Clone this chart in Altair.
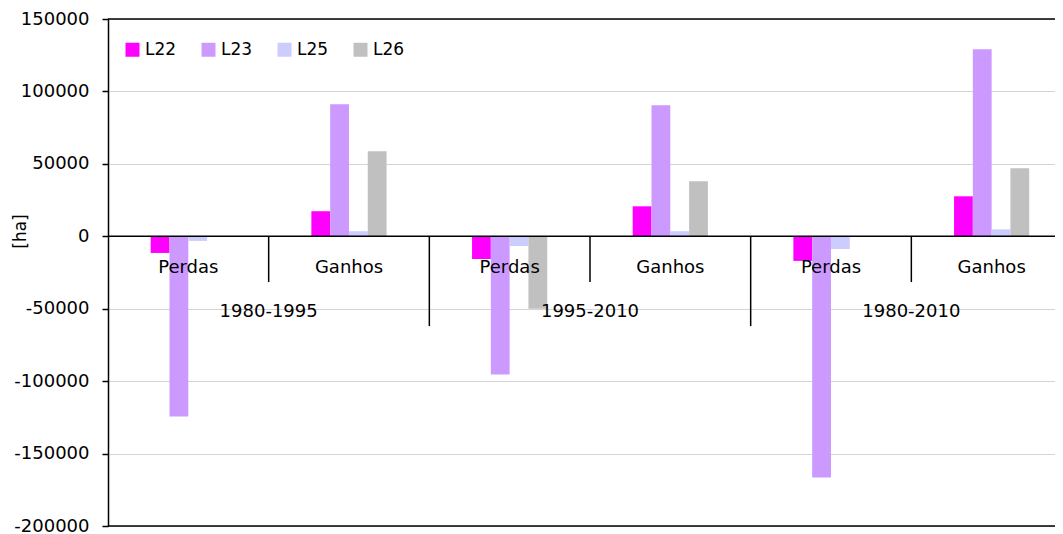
import altair as alt
import pandas as pd

periods = ["1980-1995", "1995-2010", "1980-2010"]
kinds = ["Perdas", "Ganhos"]
series = ["L22", "L23", "L25", "L26"]
colors = ["#FF00FF", "#CC99FF", "#CCCCFF", "#C0C0C0"]

# values in order: P1 Perdas, P1 Ganhos, P2 Perdas, P2 Ganhos, P3 Perdas, P3 Ganhos
L22 = [-11500, 17300, -15700, 20700, -17000, 27600]
L23 = [-124400, 91200, -95400, 90500, -166500, 129200]
L25 = [-3200, 3500, -6700, 3500, -8800, 4800]
L26 = [0, 58700, -50000, 38000, 0, 47000]

y_ticks = [-200000, -150000, -100000, -50000, 0, 50000, 100000, 150000]

FONT = "DejaVu Sans"

cats = [f"{p}|{k}" for p in periods for k in kinds]
rows = []
for s, vals in zip(series, [L22, L23, L25, L26]):
    for c, v in zip(cats, vals):
        rows.append({"cat": c, "series": s, "value": v})
df = pd.DataFrame(rows)

xscale = alt.Scale(domain=cats, range=[0, 964], paddingInner=0, paddingOuter=0)
yscale = alt.Scale(domain=[-200000, 150000], nice=False, zero=False)

yaxis = alt.Axis(
    title="[ha]", values=y_ticks, labelExpr="'' + datum.value",
    labelFont=FONT, labelFontSize=18, labelColor="black", labelPadding=13,
    tickSize=6, tickColor="black", tickWidth=1.5,
    domainColor="black", domainWidth=1.5,
    grid=True, gridColor="#d4d4d4", gridWidth=1,
    titleFont=FONT, titleFontSize=17, titleFontWeight="normal", titleColor="black",
    titleAngle=-90, titleX=-88, titleY=212, titleAlign="center", titleBaseline="middle",
)

bars = alt.Chart(df).mark_bar().encode(
    x=alt.X("cat:N", scale=xscale, axis=None, sort=cats),
    xOffset=alt.XOffset("series:N", scale=alt.Scale(domain=series, range=[42.7, 117.9], paddingInner=0, paddingOuter=0)),
    y=alt.Y("value:Q", scale=yscale, axis=yaxis),
    color=alt.Color(
        "series:N",
        scale=alt.Scale(domain=series, range=colors),
        legend=alt.Legend(
            title=None, orient="none", legendX=16, legendY=22, direction="horizontal",
            columns=4, symbolType="square", symbolSize=196, symbolStrokeWidth=0,
            labelFont=FONT, labelFontSize=17, labelColor="black", labelOffset=4,
            columnPadding=23,
        ),
    ),
)

# zero line and frame lines
hlines = alt.Chart(pd.DataFrame({"value": [0, 150000, -200000]})).mark_rule(
    color="black", strokeWidth=1.5
).encode(y=alt.Y("value:Q", scale=yscale, axis=yaxis))

# category separators
sep_df = pd.DataFrame({
    "cat": cats[1:],
    "value": [0, 0, 0, 0, 0],
    "bottom": [-31600, -62000, -31600, -62000, -31600],
})
seps = alt.Chart(sep_df).mark_rule(color="black", strokeWidth=1.5).encode(
    x=alt.X("cat:N", scale=xscale, axis=None, bandPosition=0),
    y=alt.Y("value:Q", scale=yscale, axis=yaxis),
    y2="bottom:Q",
)

kind_df = pd.DataFrame({"cat": cats, "label": [k for p in periods for k in kinds], "value": [-22000] * 6})
kind_text = alt.Chart(kind_df).mark_text(
    font=FONT, fontSize=18, color="black", baseline="middle", align="center"
).encode(
    x=alt.X("cat:N", scale=xscale, axis=None, bandPosition=0.5),
    y=alt.Y("value:Q", scale=yscale, axis=yaxis),
    text="label:N",
)

period_df = pd.DataFrame({"cat": [c for c in cats if c.endswith("Ganhos")], "label": periods, "value": [-52000] * 3})
period_text = alt.Chart(period_df).mark_text(
    font=FONT, fontSize=18, color="black", baseline="middle", align="center"
).encode(
    x=alt.X("cat:N", scale=xscale, axis=None, bandPosition=0),
    y=alt.Y("value:Q", scale=yscale, axis=yaxis),
    text="label:N",
)

chart = alt.layer(bars, hlines, seps, kind_text, period_text).properties(
    width=947, height=507,
    autosize=alt.AutoSizeParams(type="none"),
    padding={"left": 100, "top": 11, "right": 0, "bottom": 8},
).configure_view(strokeOpacity=0).configure(background="white")

chart.save("out.html", embed_options={"renderer": "svg", "actions": False})
